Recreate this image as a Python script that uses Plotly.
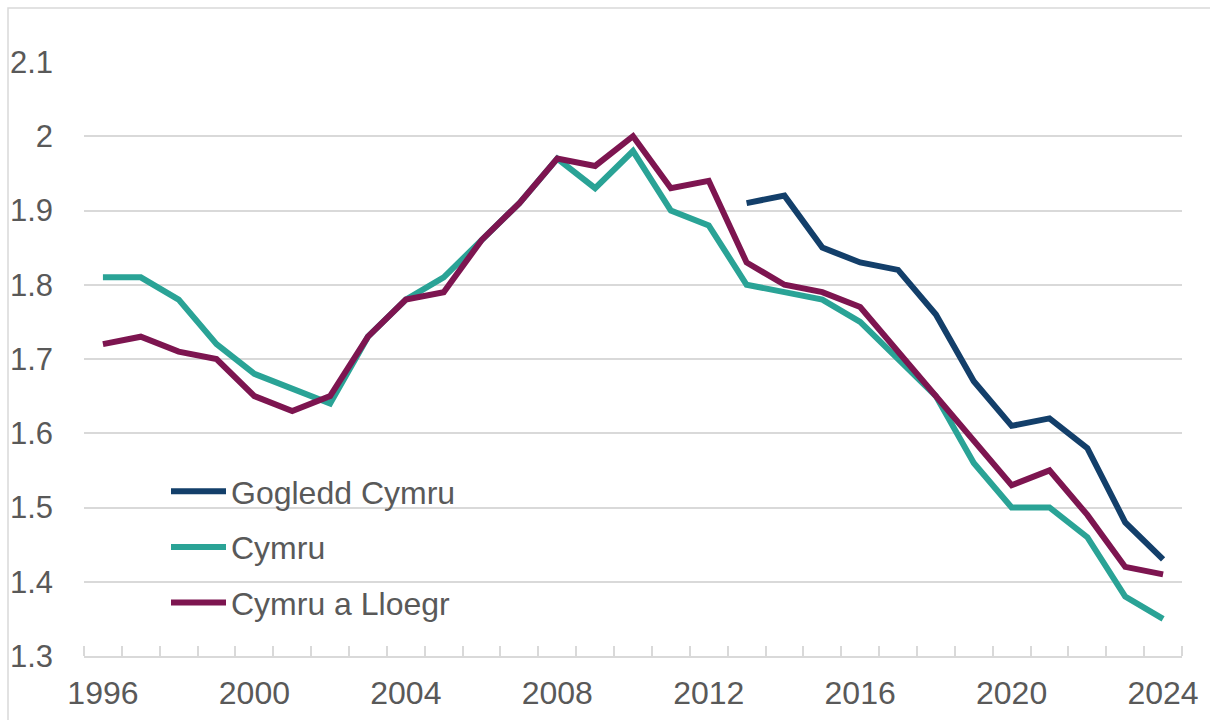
import plotly.graph_objects as go

# ── Data ──────────────────────────────────────────────────────────────────────
YEARS = list(range(1996, 2025))

CYMRU = [1.81, 1.81, 1.78, 1.72, 1.68, 1.66, 1.64, 1.73, 1.78, 1.81,
         1.86, 1.91, 1.97, 1.93, 1.98, 1.90, 1.88, 1.80, 1.79, 1.78,
         1.75, 1.70, 1.65, 1.56, 1.50, 1.50, 1.46, 1.38, 1.35]

CYMRU_LLOEGR = [1.72, 1.73, 1.71, 1.70, 1.65, 1.63, 1.65, 1.73, 1.78, 1.79,
                1.86, 1.91, 1.97, 1.96, 2.00, 1.93, 1.94, 1.83, 1.80, 1.79,
                1.77, 1.71, 1.65, 1.59, 1.53, 1.55, 1.49, 1.42, 1.41]

GOGLEDD_YEARS = list(range(2013, 2025))
GOGLEDD = [1.91, 1.92, 1.85, 1.83, 1.82, 1.76, 1.67, 1.61, 1.62, 1.58, 1.48, 1.43]

X_TICKS = [1996, 2000, 2004, 2008, 2012, 2016, 2020, 2024]
Y_TICKS = [1.3, 1.4, 1.5, 1.6, 1.7, 1.8, 1.9, 2.0, 2.1]
Y_LABELS = ["1.3", "1.4", "1.5", "1.6", "1.7", "1.8", "1.9", "2", "2.1"]

# ── Style ─────────────────────────────────────────────────────────────────────
NAVY, TEAL, MAROON = "#133F6A", "#2AA396", "#7D1550"
GRID = "#D9D9D9"
TXT = "#595959"
FONT = "Arial, Liberation Sans, sans-serif"

W, H = 1210, 720
L, R, T, B = 84, 28, 62, 64
PW, PH = W - L - R, H - T - B

fig = go.Figure()
fig.add_trace(go.Scatter(x=GOGLEDD_YEARS, y=GOGLEDD, name="Gogledd Cymru",
                         mode="lines", line=dict(color=NAVY, width=6),
                         legendgroup="a"))
fig.add_trace(go.Scatter(x=YEARS, y=CYMRU, name="Cymru",
                         mode="lines", line=dict(color=TEAL, width=6),
                         legendgroup="b"))
fig.add_trace(go.Scatter(x=YEARS, y=CYMRU_LLOEGR, name="Cymru a Lloegr",
                         mode="lines", line=dict(color=MAROON, width=6),
                         legendgroup="c"))

fig.update_xaxes(
    range=[1995.5, 2024.5],
    tickvals=X_TICKS,
    ticks="",
    showgrid=False,
    showline=True, linecolor=GRID, linewidth=1.5,
    minor=dict(tick0=1995.5, dtick=1, ticks="inside", ticklen=10,
               tickcolor=GRID, tickwidth=1.5, showgrid=False),
    tickfont=dict(size=32, color=TXT, family=FONT),
    ticklabelstandoff=8,
    automargin=False,
)
fig.update_yaxes(
    range=[1.3, 2.1],
    tickvals=Y_TICKS, ticktext=Y_LABELS,
    showgrid=True, gridcolor=GRID, gridwidth=1.5,
    zeroline=False, showline=False,
    tickfont=dict(size=31, color=TXT, family=FONT),
    ticklabelstandoff=30,
    automargin=False,
)

# outer chart border (top and left visible)
fig.add_shape(type="rect", xref="paper", yref="paper",
              x0=(8 - L) / PW, x1=(W + 20 - L) / PW,
              y0=-(B + 20) / PH, y1=(H - 8 - B) / PH,
              line=dict(color=GRID, width=1.5))

fig.update_layout(
    width=W, height=H,
    margin=dict(l=L, r=R, t=T, b=B),
    paper_bgcolor="white", plot_bgcolor="white",
    font=dict(family=FONT, color=TXT),
    showlegend=True,
    legend=dict(
        x=(166 - L) / PW, y=(H - 464 - B) / PH,
        xanchor="left", yanchor="top",
        font=dict(size=32, color=TXT, family=FONT),
        bgcolor="rgba(0,0,0,0)",
        tracegroupgap=11,
        itemwidth=55,
    ),
)

fig.write_html("out.html", config={"displayModeBar": False},
               post_script="document.body.style.margin='0';")
